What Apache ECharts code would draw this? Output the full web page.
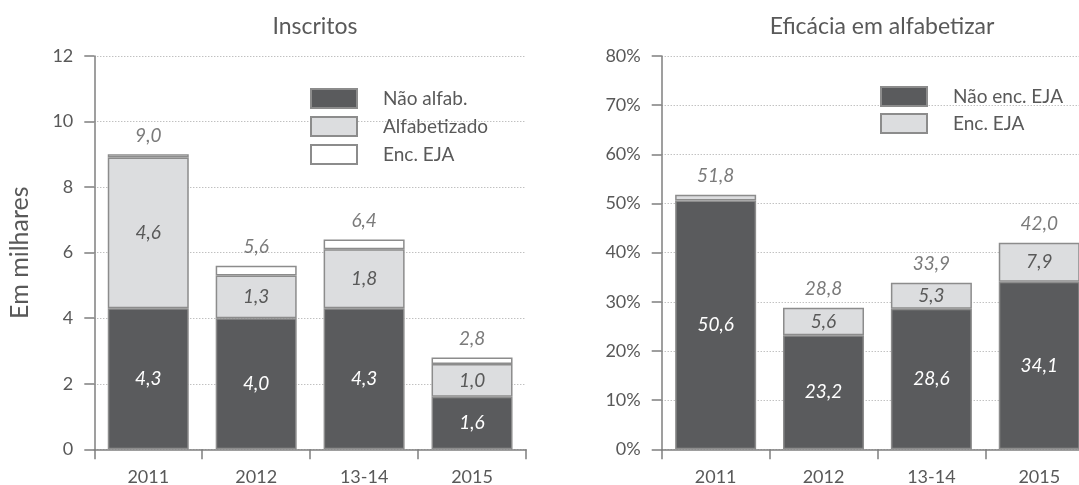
<!DOCTYPE html>
<html>
<head>
<meta charset="utf-8">
<script src="https://cdn.jsdelivr.net/npm/echarts@6/dist/echarts.min.js"></script>
<style>
  html, body { margin: 0; padding: 0; background: #fff; }
  #chart { width: 1079px; height: 485px; }
</style>
</head>
<body>
<div id="chart"></div>
<script>
// Categories shared by both panels
const categories = ['2011', '2012', '13-14', '2015'];

// Inscritos (em milhares)
const naoAlfab = [4.3, 4.0, 4.3, 1.6];
const alfabetizado = [4.6, 1.3, 1.8, 1.0];
const encEjaInscritos = [0.1, 0.3, 0.3, 0.2];

// Eficácia em alfabetizar (%)
const naoEncEja = [50.6, 23.2, 28.6, 34.1];
const encEja = [1.2, 5.6, 5.3, 7.9];
const labelEncEja = [false, true, true, true];

const leftTicks = { min: 0, max: 12, interval: 2 };
const rightTicks = { min: 0, max: 80, interval: 10 };

const FONT = 'Lato, "Open Sans", sans-serif';
const TXT = '#595959';
const DARK = '#5a5b5d';
const LIGHT = '#dcdddf';
const EDGE = '#8c8c8c';
const AXIS = '#7f7f7f';

const fmt = v => v.toFixed(1).replace('.', ',');
const sum = (...arrs) => arrs[0].map((_, i) => Math.round(arrs.reduce((s, a) => s + a[i], 0) * 10) / 10);

const totalsLeft = sum(naoAlfab, alfabetizado, encEjaInscritos);
const totalsRight = sum(naoEncEja, encEja);

function xAxis(gridIndex) {
  return {
    type: 'category', gridIndex, data: categories,
    axisLine: { lineStyle: { color: AXIS, width: 1.5 } },
    axisTick: { show: true, length: 10, alignWithLabel: false, lineStyle: { color: AXIS, width: 1.5 } },
    axisLabel: { color: TXT, fontFamily: FONT, fontSize: 18, margin: 19 }
  };
}
function yAxis(gridIndex, t, pct) {
  return {
    type: 'value', gridIndex, min: t.min, max: t.max, interval: t.interval,
    axisLine: { show: true, lineStyle: { color: AXIS, width: 1.5 } },
    axisTick: { show: true, length: 10, lineStyle: { color: AXIS, width: 1.5 } },
    axisLabel: { color: TXT, fontFamily: FONT, fontSize: 18, margin: 21,
                 formatter: pct ? '{value}%' : '{value}' },
    splitLine: { show: true, lineStyle: { color: '#a6a6a6', type: [1, 2], width: 1 } }
  };
}
function bar(name, data, idx, color, stack, labelColor, showLabel) {
  return {
    name, type: 'bar', data, stack, xAxisIndex: idx, yAxisIndex: idx,
    barWidth: 81,
    itemStyle: { color, borderColor: EDGE, borderWidth: 1.5 },
    label: {
      show: true, position: 'inside', color: labelColor,
      fontFamily: FONT, fontSize: 19, fontStyle: 'italic',
      formatter: p => (showLabel && !showLabel[p.dataIndex]) ? '' : fmt(p.value)
    },
    emphasis: { disabled: true }
  };
}
function totals(data, idx) {
  return {
    type: 'scatter', data, xAxisIndex: idx, yAxisIndex: idx,
    symbolSize: 0, silent: true,
    label: { show: true, position: 'top', distance: 9, color: TXT,
             fontFamily: FONT, fontSize: 19, fontStyle: 'italic',
             formatter: p => fmt(p.value) }
  };
}

const titleStyle = { color: TXT, fontFamily: FONT, fontSize: 23, fontWeight: 'normal' };
const legendText = { color: TXT, fontFamily: FONT, fontSize: 19, padding: [0, 0, 0, 21] };

const chart = echarts.init(document.getElementById('chart'));
chart.setOption({
  animation: false,
  textStyle: { fontFamily: FONT },
  title: [
    { text: 'Inscritos', left: 310, top: 10, textAlign: 'center', textStyle: titleStyle },
    { text: 'Eficácia em alfabetizar', left: 877, top: 10, textAlign: 'center', textStyle: titleStyle }
  ],
  legend: [
    { orient: 'vertical', left: 305, top: 83, itemWidth: 46, itemHeight: 19, itemGap: 7,
      icon: 'rect', data: ['Não alfab.', 'Alfabetizado', 'Enc. EJA '], textStyle: legendText },
    { orient: 'vertical', left: 875, top: 81, itemWidth: 46, itemHeight: 19, itemGap: 6,
      icon: 'rect', data: ['Não enc. EJA', 'Enc. EJA'], textStyle: legendText }
  ],
  grid: [
    { left: 94.3, width: 431.7, top: 56, bottom: 35.7, outerBoundsMode: 'none', containLabel: false },
    { left: 661.7, width: 431.5, top: 56, bottom: 35.7, outerBoundsMode: 'none', containLabel: false }
  ],
  xAxis: [xAxis(0), xAxis(1)],
  yAxis: [
    Object.assign(yAxis(0, leftTicks, false), {
      name: 'Em milhares', nameLocation: 'middle', nameGap: 62, nameRotate: 90,
      nameTextStyle: { color: TXT, fontFamily: FONT, fontSize: 25 }
    }),
    yAxis(1, rightTicks, true)
  ],
  series: [
    bar('Não alfab.', naoAlfab, 0, DARK, 'a', '#ffffff'),
    bar('Alfabetizado', alfabetizado, 0, LIGHT, 'a', TXT),
    Object.assign(bar('Enc. EJA ', encEjaInscritos, 0, '#ffffff', 'a', TXT),
      { label: { show: false } }),
    totals(totalsLeft, 0),
    bar('Não enc. EJA', naoEncEja, 1, DARK, 'b', '#ffffff'),
    bar('Enc. EJA', encEja, 1, LIGHT, 'b', TXT, labelEncEja),
    totals(totalsRight, 1)
  ]
});
</script>
</body>
</html>
